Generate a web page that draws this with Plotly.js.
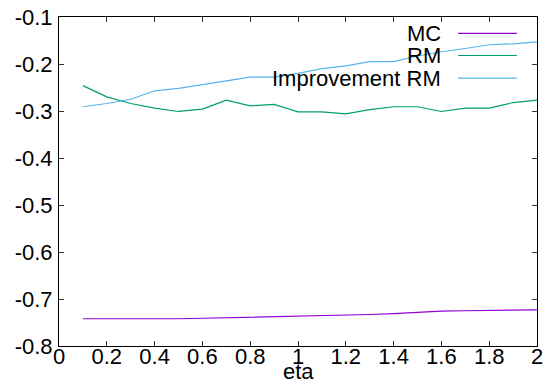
<!DOCTYPE html>
<html>
<head>
<meta charset="utf-8">
<script src="https://cdn.plot.ly/plotly-3.0.1.min.js"></script>
<style>html,body{margin:0;padding:0;background:#fff;}#chart{width:552px;height:382px;}</style>
</head>
<body>
<div id="chart"></div>
<script>
const eta = [0.1,0.2,0.3,0.4,0.5,0.6,0.7,0.8,0.9,1.0,1.1,1.2,1.3,1.4,1.5,1.6,1.7,1.8,1.9,2.0];
const mc = [-0.742,-0.742,-0.743,-0.743,-0.742,-0.741,-0.740,-0.739,-0.738,-0.737,-0.736,-0.735,-0.733,-0.731,-0.728,-0.726,-0.725,-0.724,-0.724,-0.723];
const rm = [-0.246,-0.270,-0.284,-0.294,-0.301,-0.296,-0.277,-0.289,-0.286,-0.302,-0.302,-0.306,-0.297,-0.291,-0.291,-0.301,-0.294,-0.294,-0.282,-0.277];
const improvementRm = [-0.291,-0.284,-0.275,-0.257,-0.252,-0.244,-0.236,-0.228,-0.228,-0.220,-0.210,-0.204,-0.195,-0.195,-0.183,-0.174,-0.167,-0.159,-0.157,-0.153];
const seriesNames = ["MC","RM","Improvement RM"];
const seriesColors = ["#9400d3","#009e73","#56b4e9"];
const yTickVals = [-0.8,-0.7,-0.6,-0.5,-0.4,-0.3,-0.2,-0.1];
const yTickText = ["-0.8","-0.7","-0.6","-0.5","-0.4","-0.3","-0.2","-0.1"];
const xTickVals = [0,0.2,0.4,0.6,0.8,1,1.2,1.4,1.6,1.8,2];
const xTickText = ["0","0.2","0.4","0.6","0.8","1","1.2","1.4","1.6","1.8","2"];
const xAxisLabel = "eta";

const FONT = 'Liberation Sans, Arial, Helvetica, sans-serif';
const seriesData = [mc, rm, improvementRm];
const traces = seriesData.map((ys, i) => ({
  x: eta, y: ys, type: 'scatter', mode: 'lines', name: seriesNames[i],
  line: {color: seriesColors[i], width: 1.2}, showlegend: false, hoverinfo: 'skip'
}));

const legY = [0.950, 0.883, 0.814];
const annotations = seriesNames.map((n, i) => ({
  text: n, xref: 'paper', yref: 'paper', x: 0.803, y: legY[i],
  xanchor: 'right', yanchor: 'middle', showarrow: false,
  font: {family: FONT, size: 22, color: '#000'}
}));
annotations.push({
  text: xAxisLabel, xref: 'paper', yref: 'paper', x: 0.5, y: -0.078,
  xanchor: 'center', yanchor: 'middle', showarrow: false,
  font: {family: FONT, size: 22, color: '#000'}
});
const shapes = seriesNames.map((n, i) => ({
  type: 'line', xref: 'paper', yref: 'paper', x0: 0.835, x1: 0.958, y0: legY[i], y1: legY[i],
  line: {color: seriesColors[i], width: 1.2}
}));

const axisCommon = {
  showline: true, linecolor: '#000', linewidth: 1, mirror: 'ticks',
  ticks: 'inside', ticklen: 5, tickcolor: '#333', tickwidth: 1,
  showgrid: false, zeroline: false,
  tickfont: {family: FONT, size: 22, color: '#000'}
};

const layout = {
  width: 552, height: 382,
  margin: {l: 59, r: 15, t: 17, b: 36, pad: 0},
  paper_bgcolor: '#fff', plot_bgcolor: '#fff',
  font: {family: FONT, size: 22, color: '#000'},
  xaxis: Object.assign({}, axisCommon, {
    range: [0, 2], tickmode: 'array', tickvals: xTickVals, ticktext: xTickText,
    ticklabelstandoff: -9
  }),
  yaxis: Object.assign({}, axisCommon, {
    range: [-0.8, -0.1], tickmode: 'array', tickvals: yTickVals, ticktext: yTickText,
    ticklabelstandoff: 1
  }),
  annotations: annotations,
  shapes: shapes,
  showlegend: false
};

Plotly.newPlot('chart', traces, layout, {displayModeBar: false, staticPlot: true});
</script>
</body>
</html>
